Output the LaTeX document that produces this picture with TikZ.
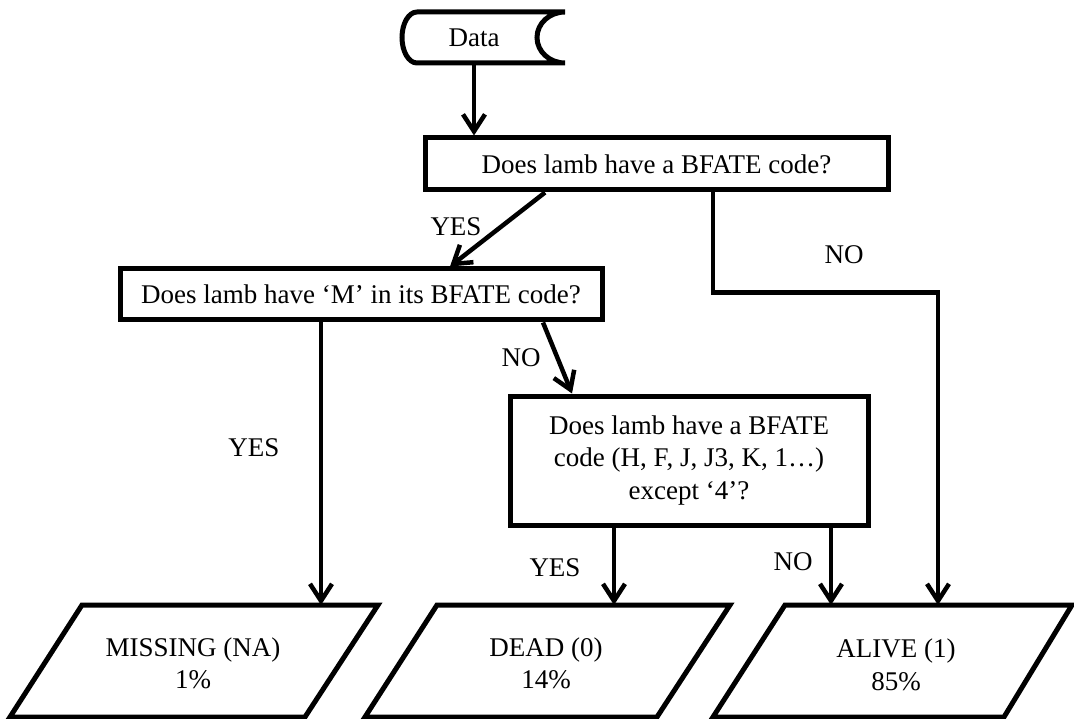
\documentclass[tikz,border=0pt]{standalone}
\usepackage{fontspec}
\setmainfont{Liberation Serif}
\usetikzlibrary{arrows.meta}
\newcommand{\fs}{\fontsize{27}{32.5}\selectfont}
\begin{document}
\begin{tikzpicture}[x=1pt,y=-1pt,
  shp/.style={draw, line width=5pt, line join=miter},
  box/.style={draw, line width=5pt, inner sep=0pt, align=center, font=\fs},
  txt/.style={inner sep=0pt, align=center, font=\fs},
  arr/.style={line width=4.5pt, -{Straight Barb[length=17pt,width=22pt]}}]
\useasboundingbox (0,0) rectangle (1074,719);

% Data (stored data shape)
\node[txt, minimum width=150pt, minimum height=51pt] (data) at (474,37.5) {Data};
\draw[shp] (417,12) -- (565,12)
  arc[start angle=90, end angle=270, x radius=28pt, y radius=25.5pt]
  -- (417,63)
  arc[start angle=270, end angle=90, x radius=15pt, y radius=25.5pt] -- cycle;

% decision boxes
\node[box, minimum width=463pt, minimum height=52pt] (box1) at (656.5,164) {Does lamb have a BFATE code?};
\node[box, minimum width=482pt, minimum height=51pt] (box2) at (361,294.5) {Does lamb have ‘M’ in its BFATE code?};
\node[box, minimum width=358pt, minimum height=129pt] (box3) at (689,460.5) {Does lamb have a BFATE\\code (H, F, J, J3, K, 1…)\\except ‘4’?};

% outcome parallelograms
\draw[shp] (82,605) -- (378,605) -- (305,717) -- (10,717) -- cycle;
\draw[shp] (437,605) -- (730,605) -- (657,717) -- (365,717) -- cycle;
\draw[shp] (785,605) -- (1072,605) -- (1004,717) -- (713,717) -- cycle;
\node[txt] (missing) at (193,663.5) {MISSING (NA)\\1\%};
\node[txt] (dead) at (546,663.5) {DEAD (0)\\14\%};
\node[txt] (alive) at (896,665) {ALIVE (1)\\85\%};

\coordinate (mIn) at (321,605);
\coordinate (dIn) at (614,605);
\coordinate (aIn1) at (831,605);
\coordinate (aIn2) at (938,605);

% connectors
\draw[arr] (data.south) -- (data.south |- box1.north);
\draw[arr] ([xshift=-111.5pt]box1.south) -- ([xshift=89pt]box2.north);
\draw[arr] ([xshift=56.5pt]box1.south) -- ++(0,100) -| (aIn2);
\draw[arr] (box2.south -| mIn) -- (mIn);
\draw[arr] ([xshift=182pt]box2.south) -- ([xshift=-117pt]box3.north);
\draw[arr] (box3.south -| dIn) -- (dIn);
\draw[arr] (box3.south -| aIn1) -- (aIn1);

% labels
\node[txt] (l1) at (456,227) {YES};
\node[txt] (l2) at (844,255) {NO};
\node[txt] (l3) at (254,448) {YES};
\node[txt] (l4) at (521,358) {NO};
\node[txt] (l5) at (555,568) {YES};
\node[txt] (l6) at (793,562) {NO};
\end{tikzpicture}
\end{document}
